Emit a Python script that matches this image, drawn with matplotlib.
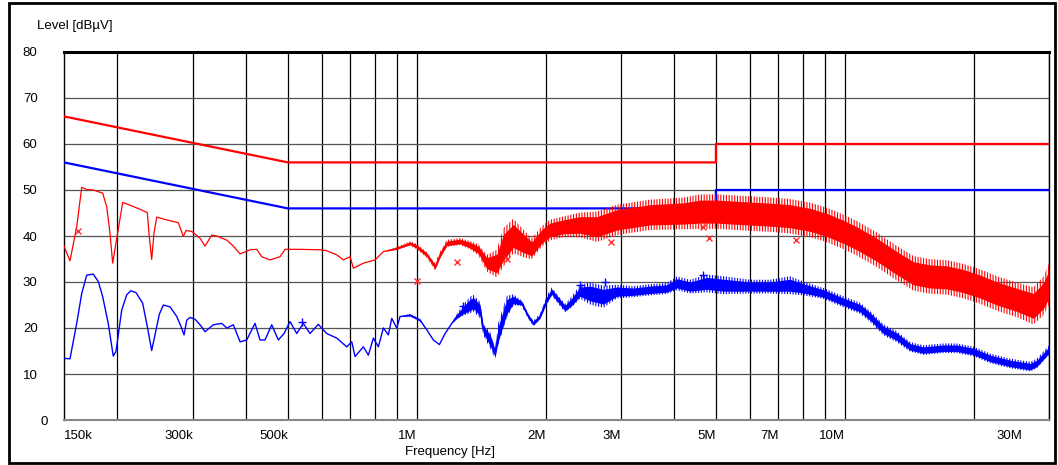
import matplotlib
matplotlib.use("Agg")
import matplotlib.pyplot as plt
import matplotlib.transforms as mtransforms
from matplotlib.patches import Rectangle
import numpy as np

plt.rcParams['font.family'] = ['Liberation Sans', 'DejaVu Sans']
plt.rcParams['hatch.linewidth'] = 0.8

# ---------------- data ----------------
# limit lines (MHz, dBuV)
qp_limit_freq = [0.15, 0.5, 0.5, 5.0, 5.0, 30.0]
qp_limit_level = [66, 56, 56, 56, 60, 60]
av_limit_freq = [0.15, 0.5, 0.5, 5.0, 5.0, 30.0]
av_limit_level = [56, 46, 46, 46, 50, 50]

# peak trace (red): frequency [MHz], level [dBuV], noise half-spread [dB]
red_freq = [0.15, 0.1549, 0.1606, 0.165, 0.1695, 0.1756, 0.1847, 0.1887, 0.1921, 0.1949,
            0.1984, 0.2057, 0.2139, 0.2257, 0.2348, 0.2373, 0.2404, 0.2434, 0.247, 0.2607,
            0.2774, 0.285, 0.2892, 0.2982, 0.3118, 0.3203, 0.332, 0.3411, 0.36, 0.373,
            0.3867, 0.408, 0.423, 0.4345, 0.4544, 0.4795, 0.4925, 0.5339, 0.5946, 0.6164,
            0.6506, 0.674, 0.6988, 0.7113, 0.7506, 0.7994, 0.8359, 0.8982, 0.9652, 1.0006,
            1.0558, 1.104, 1.1341, 1.1758, 1.2627, 1.3325, 1.3935, 1.4579, 1.5384, 1.594,
            1.6821, 1.7751, 1.8571, 1.9596, 2.049, 2.2016, 2.409, 2.635, 2.934, 3.509,
            4.198, 4.592, 5.024, 5.695, 6.814, 7.452, 8.302, 9.081, 9.932, 10.668,
            11.884, 13.235, 14.469, 15.83, 17.32, 18.94, 20.72, 22.67, 25.25, 27.6,
            29.12, 30.0]
red_level = [37.8, 34.6, 42.0, 50.6, 50.1, 50.0, 49.3, 46.4, 40.6, 34.1,
             38.5, 47.3, 46.7, 45.8, 45.1, 39.9, 34.9, 40.6, 44.1, 43.5,
             42.9, 39.9, 41.2, 41.0, 39.5, 37.8, 40.2, 40.0, 39.1, 37.8,
             36.1, 37.0, 37.1, 35.5, 34.8, 35.5, 37.1, 37.1, 37.0, 36.8,
             35.9, 34.8, 35.5, 33.0, 34.1, 34.8, 36.6, 37.3, 38.4, 37.7,
             35.9, 33.3, 35.9, 38.4, 38.8, 38.0, 37.0, 34.1, 34.0, 37.5,
             40.0, 38.4, 37.2, 39.9, 41.3, 42.0, 42.4, 42.0, 43.5, 44.6,
             44.9, 45.3, 45.3, 45.0, 44.6, 44.3, 43.5, 42.4, 40.9, 39.5,
             37.0, 34.1, 31.9, 31.2, 31.0, 30.2, 29.0, 27.5, 26.1, 24.8,
             27.0, 29.5]
red_spread = [0, 0, 0, 0, 0, 0, 0, 0, 0, 0,
              0, 0, 0, 0, 0, 0, 0, 0, 0, 0,
              0, 0, 0, 0, 0, 0, 0, 0, 0, 0,
              0, 0, 0, 0, 0, 0, 0, 0, 0, 0,
              0, 0, 0, 0, 0, 0, 0, 0.2, 0.3, 0.4,
              0.4, 0.5, 0.5, 0.5, 0.5, 0.6, 0.8, 1.2, 2.0, 2.8,
              2.5, 2.0, 1.5, 1.5, 1.5, 1.5, 1.8, 2.2, 2.2, 2.2,
              2.3, 2.5, 2.5, 2.5, 2.5, 2.5, 2.5, 2.5, 2.5, 2.5,
              2.5, 2.5, 2.5, 2.5, 2.5, 2.5, 2.5, 2.5, 2.5, 2.7,
              2.8, 3.0]

# average trace (blue)
blue_freq = [0.15, 0.1549, 0.1606, 0.165, 0.1695, 0.1756, 0.1804, 0.1847, 0.1903, 0.1955,
             0.1984, 0.2046, 0.2102, 0.2147, 0.2209, 0.229, 0.2348, 0.2404, 0.2505, 0.256,
             0.2653, 0.2751, 0.2815, 0.2861, 0.2903, 0.2955, 0.3035, 0.3118, 0.3203, 0.335,
             0.3504, 0.36, 0.373, 0.3867, 0.4008, 0.4191, 0.4305, 0.4423, 0.4585, 0.4751,
             0.4899, 0.506, 0.5245, 0.5435, 0.5634, 0.5891, 0.6164, 0.6506, 0.6865, 0.7052,
             0.7178, 0.7506, 0.7711, 0.7921, 0.8137, 0.8359, 0.8587, 0.8745, 0.8982, 0.9143,
             0.9652, 1.0185, 1.0558, 1.0939, 1.1299, 1.1651, 1.2078, 1.2405, 1.2853, 1.3325,
             1.3564, 1.4062, 1.4314, 1.484, 1.5244, 1.5518, 1.6235, 1.6821, 1.7598, 1.8234,
             1.873, 1.9416, 2.0128, 2.0676, 2.1427, 2.2213, 2.303, 2.409, 2.541, 2.73,
             2.934, 3.208, 3.509, 3.839, 4.052, 4.353, 4.761, 5.208, 6.01, 6.694,
             7.452, 8.008, 8.916, 9.932, 10.859, 11.463, 12.314, 13.235, 14.214, 15.27,
             17.0, 18.27, 19.98, 21.86, 24.35, 27.11, 28.1, 30.0]
blue_level = [13.4, 13.3, 21.0, 27.5, 31.5, 31.7, 30.1, 26.8, 21.0, 13.9,
              14.9, 23.9, 27.2, 28.1, 27.7, 25.4, 20.3, 15.1, 23.0, 25.0,
              24.6, 22.5, 20.3, 18.5, 21.7, 22.3, 21.9, 20.7, 19.2, 20.7,
              21.0, 20.0, 20.7, 17.0, 17.4, 21.0, 17.4, 17.4, 20.7, 17.4,
              18.8, 21.4, 18.8, 21.0, 18.8, 20.8, 18.8, 17.8, 15.9, 17.0,
              13.8, 15.9, 14.1, 17.8, 15.9, 20.0, 18.5, 22.1, 20.0, 22.5,
              22.8, 21.7, 19.6, 17.4, 16.4, 18.8, 21.0, 22.5, 23.9, 25.0,
              25.4, 23.9, 19.6, 17.4, 14.5, 18.8, 24.6, 26.1, 25.4, 22.5,
              21.0, 22.5, 26.1, 27.9, 26.1, 24.3, 25.7, 27.9, 27.5, 26.8,
              27.9, 27.9, 28.3, 28.6, 29.7, 29.0, 29.7, 29.3, 29.0, 29.0,
              29.3, 28.6, 27.5, 25.7, 24.3, 22.5, 19.6, 18.1, 15.9, 15.2,
              15.6, 15.6, 14.9, 13.4, 12.3, 11.6, 12.3, 15.2]
blue_spread = [0, 0, 0, 0, 0, 0, 0, 0, 0, 0,
               0, 0, 0, 0, 0, 0, 0, 0, 0, 0,
               0, 0, 0, 0, 0, 0, 0, 0, 0, 0,
               0, 0, 0, 0, 0, 0, 0, 0, 0, 0,
               0, 0, 0, 0, 0, 0, 0, 0, 0, 0,
               0, 0, 0, 0, 0, 0, 0, 0, 0, 0,
               0.2, 0.2, 0, 0, 0, 0, 0, 0.4, 0.8, 1.2,
               1.2, 1.2, 0.8, 1.2, 0.8, 1.6, 1.6, 0.8, 0.4, 0.4,
               0.4, 0.4, 0.6, 0.6, 0.6, 0.6, 0.8, 1.0, 1.6, 1.6,
               1.0, 0.8, 0.8, 0.8, 1.0, 1.0, 1.3, 1.3, 1.0, 1.0,
               1.3, 1.0, 0.8, 0.8, 0.8, 0.8, 0.8, 0.8, 0.7, 0.7,
               0.7, 0.7, 0.7, 0.7, 0.7, 0.7, 0.7, 0.7]

# final measurement markers
qp_mark_freq = [0.162, 1.0006, 1.2405, 1.6235, 2.846, 4.676, 4.829, 7.698]
qp_mark_level = [41.1, 30.3, 34.4, 35.1, 38.8, 41.9, 39.5, 39.1]
av_mark_freq = [0.5388, 1.2853, 2.409, 2.755, 4.66]
av_mark_level = [21.2, 24.8, 29.3, 30.1, 31.5]

# axis ticks / labels
x_label_freq = [0.15, 0.3, 0.5, 1, 2, 3, 5, 7, 10, 30]
x_label_text = ['150k', '300k', '500k', '1M', '2M', '3M', '5M', '7M', '10M', '30M']
x_grid_freq = [0.2, 0.3, 0.4, 0.5, 0.6, 0.7, 0.8, 0.9, 1, 2, 3, 4, 5, 6, 7, 8, 9, 10, 20, 30]
y_ticks = [0, 10, 20, 30, 40, 50, 60, 70, 80]

# ---------------- plot ----------------
W, H = 1058, 465
fig = plt.figure(figsize=(W / 100, H / 100), dpi=100)
ax = fig.add_axes([64 / W, 45 / H, 985 / W, 368 / H])
ax.set_xscale('log')
ax.set_xlim(0.15, 30)
ax.set_ylim(0, 80)

# grid
for f in x_grid_freq:
    ax.axvline(f, color='black', lw=0.9, zorder=1)
for y in y_ticks[1:-1]:
    ax.axhline(y, color='#555555', lw=0.9, zorder=1)

# limit lines
ax.plot(qp_limit_freq, qp_limit_level, color='#ff0000', lw=1.6, zorder=3)
ax.plot(av_limit_freq, av_limit_level, color='#0000ff', lw=1.6, zorder=3)

# traces: solid core band + hatched (spiky-looking) outer band + centre line
rf = np.array(red_freq); rl = np.array(red_level); rs = np.array(red_spread)
bf = np.array(blue_freq); bl = np.array(blue_level); bs = np.array(blue_spread)

ax.fill_between(rf, rl - 1.5 * rs, rl + 1.5 * rs, facecolor='none', edgecolor='#ff0000',
                hatch='||||||', lw=0, zorder=4)
ax.fill_between(rf, rl - rs, rl + rs, color='#ff0000', lw=0, zorder=4)
ax.plot(rf, rl, color='#ff0000', lw=0.9, zorder=4)

ax.fill_between(bf, bl - 1.5 * bs, bl + 1.5 * bs, facecolor='none', edgecolor='#0000ff',
                hatch='||||||', lw=0, zorder=5)
ax.fill_between(bf, bl - bs, bl + bs, color='#0000ff', lw=0, zorder=5)
ax.plot(bf, bl, color='#0000ff', lw=1.0, zorder=5)

# markers
ax.plot(qp_mark_freq, qp_mark_level, ls='none', marker='x', ms=5, mew=1.0,
        color='#ff3030', zorder=6)
ax.plot(av_mark_freq, av_mark_level, ls='none', marker='+', ms=6, mew=1.0,
        color='#0000ff', zorder=6)

# spines
ax.spines['top'].set_linewidth(2.2)
ax.spines['top'].set_color('black')
ax.spines['left'].set_linewidth(1.0)
ax.spines['left'].set_color('black')
ax.spines['right'].set_linewidth(1.0)
ax.spines['right'].set_color('black')
ax.spines['bottom'].set_linewidth(1.5)
ax.spines['bottom'].set_color('#888888')

# ticks
ax.xaxis.set_minor_locator(matplotlib.ticker.NullLocator())
ax.set_xticks(x_label_freq)
ax.set_xticklabels(x_label_text)
ax.set_yticks(y_ticks)
ax.set_yticklabels([str(v) for v in y_ticks])
ax.tick_params(axis='both', length=0, labelsize=9.5, colors='black')
ax.tick_params(axis='x', pad=7)
ax.tick_params(axis='y', pad=19)

for lab, txt in zip(ax.get_xticklabels(), x_label_text):
    if txt == '150k':
        lab.set_ha('left')
    else:
        lab.set_ha('right')
    if txt == '30M':
        lab.set_transform(lab.get_transform() +
                          mtransforms.ScaledTranslation(-27 / 100, 0, fig.dpi_scale_trans))
for lab, v in zip(ax.get_yticklabels(), y_ticks):
    if v == 0:
        lab.set_transform(lab.get_transform() +
                          mtransforms.ScaledTranslation(10 / 100, 0, fig.dpi_scale_trans))

fig.text(37 / W, 1 - 26 / H, 'Level [dBµV]', ha='left', va='center', fontsize=9.5)
fig.text(450 / W, 1 - 452 / H, 'Frequency [Hz]', ha='center', va='center', fontsize=9.5)

# outer frame
fig.add_artist(Rectangle((9 / W, 2 / H), (1055 - 9) / W, (462 - 2) / H,
                         transform=fig.transFigure, fill=False, lw=2, ec='black'))

fig.savefig('out.png', dpi=100)
